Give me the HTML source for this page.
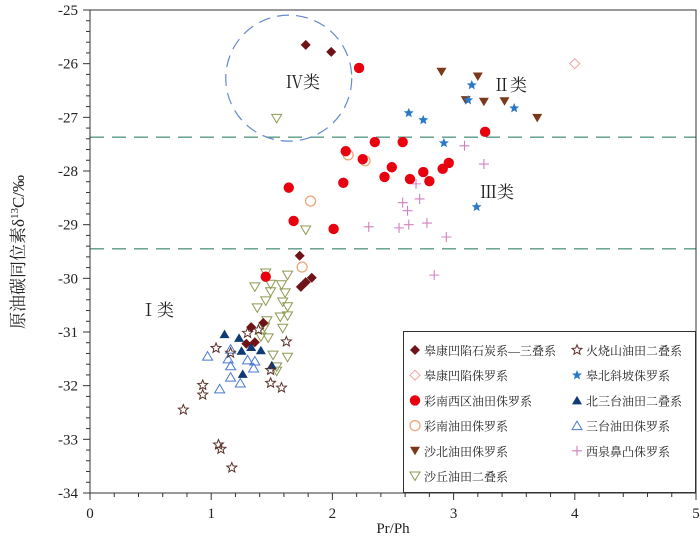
<!DOCTYPE html>
<html><head><meta charset="utf-8"><style>
body{margin:0;background:#fff;width:700px;height:541px;overflow:hidden}
svg{display:block}
text{font-family:"Liberation Serif","Noto Serif CJK SC",serif}
</style></head><body>
<svg id="chart" width="700" height="541"></svg>
<script>
const xTicks=[0,1,2,3,4,5];
const yTicks=[-25,-26,-27,-28,-29,-30,-31,-32,-33,-34];
const boundaryLines=[-27.37,-29.45];
const s1x=[1.78,1.99,1.73,1.74,1.78,1.83,1.33,1.36,1.29,1.43];
const s1y=[-25.65,-25.78,-29.58,-30.16,-30.07,-29.99,-30.91,-31.19,-31.22,-30.83];
const s2x=[4.0];const s2y=[-26.0];
const s3x=[2.22,2.35,2.58,3.26,2.11,2.25,2.49,2.43,2.64,2.75,2.80,2.91,2.96,2.09,1.64,1.68,2.01,1.45];
const s3y=[-26.08,-27.46,-27.46,-27.27,-27.63,-27.78,-27.93,-28.11,-28.15,-28.02,-28.19,-27.96,-27.85,-28.22,-28.31,-28.93,-29.08,-29.97];
const s4x=[2.13,2.27,1.82,1.75];const s4y=[-27.7,-27.81,-28.56,-29.79];
const s5x=[2.90,3.20,3.10,3.25,3.42,3.69];const s5y=[-26.15,-26.24,-26.68,-26.71,-26.70,-27.01];
const s6x=[1.54,1.78,1.45,1.63,1.36,1.49,1.58,1.49,1.61,1.45,1.38,1.59,1.63,1.57,1.63,1.46,1.44,1.59,1.47,1.41,1.51,1.63,1.54,1.54];
const s6y=[-27.02,-29.1,-29.90,-29.94,-30.16,-30.11,-30.12,-30.25,-30.27,-30.42,-30.55,-30.44,-30.53,-30.72,-30.70,-30.79,-30.91,-30.93,-31.11,-31.09,-31.43,-31.47,-31.73,-31.65];
const s7x=[1.04,1.16,1.30,1.39,1.62,1.49,1.49,1.58,0.93,0.93,0.77,1.06,1.08,1.17];
const s7y=[-31.30,-31.39,-31.02,-30.96,-31.18,-31.71,-31.95,-32.04,-31.99,-32.17,-32.45,-33.10,-33.18,-33.53];
const s8x=[3.15,3.12,3.50,2.63,2.75,2.92,3.19];const s8y=[-26.40,-26.68,-26.83,-26.92,-27.05,-27.48,-28.67];
const s9x=[1.11,1.23,1.25,1.33,1.41,1.50,1.26];const s9y=[-31.04,-31.11,-31.35,-31.28,-31.34,-31.62,-31.78];
const s10x=[0.97,1.16,1.14,1.16,1.30,1.36,1.35,1.16,1.24,1.07];const s10y=[-31.45,-31.32,-31.50,-31.63,-31.52,-31.54,-31.67,-31.84,-31.95,-32.06];
const s11x=[3.09,3.25,2.69,2.72,2.58,2.62,2.78,2.63,2.55,2.30,2.94,2.84];const s11y=[-27.53,-27.87,-28.24,-28.52,-28.59,-28.74,-28.97,-29.0,-29.06,-29.04,-29.23,-29.94];

const L=90,R=696,T=10,B=493;
const X=v=>L+(v-0)/5*(R-L);
const Y=v=>T+(-25-v)/9*(B-T);
const svg=document.getElementById('chart');
const NS='http://www.w3.org/2000/svg';
function mk(tag,attrs,parent){const e=document.createElementNS(NS,tag);for(const k in attrs)e.setAttribute(k,attrs[k]);(parent||svg).appendChild(e);return e;}

boundaryLines.forEach(v=>{const l=mk('line',{x1:L,x2:R,y1:Y(v),y2:Y(v),stroke:'#5a9a86','stroke-width':1.3,'stroke-dasharray':'14,8'});

});
const c=mk('circle',{cx:X(1.64),cy:Y(-26.27),r:63,fill:'none',stroke:'#6688cc','stroke-width':1.2,'stroke-dasharray':'12,7'});



function marker(type,x,y,g){
 switch(type){
 case 'dia':return mk('path',{d:`M${x},${y-5}L${x+5},${y}L${x},${y+5}L${x-5},${y}Z`,fill:'#6e1418'},g);
 case 'odia':return mk('path',{d:`M${x},${y-5}L${x+5},${y}L${x},${y+5}L${x-5},${y}Z`,fill:'none',stroke:'#f0a0a0','stroke-width':1},g);
 case 'cir':return mk('circle',{cx:x,cy:y,r:5.2,fill:'#e8000e'},g);
 case 'ocir':return mk('circle',{cx:x,cy:y,r:5,fill:'none',stroke:'#f0a070','stroke-width':1.2},g);
 case 'dtri':return mk('path',{d:`M${x-5},${y-4}L${x+5},${y-4}L${x},${y+4.5}Z`,fill:'#7a3a1a'},g);
 case 'odtri':return mk('path',{d:`M${x-5},${y-4}L${x+5},${y-4}L${x},${y+4.5}Z`,fill:'none',stroke:'#8c9a50','stroke-width':1},g);
 case 'tri':return mk('path',{d:`M${x-5},${y+4}L${x+5},${y+4}L${x},${y-4.5}Z`,fill:'#0f3a74'},g);
 case 'otri':return mk('path',{d:`M${x-5},${y+4}L${x+5},${y+4}L${x},${y-4.5}Z`,fill:'none',stroke:'#4a7ad0','stroke-width':1},g);
 case 'star':case 'ostar':{let p='';for(let i=0;i<10;i++){const r=i%2?2.3:5.2;const a=-Math.PI/2+i*Math.PI/5;p+=(i?'L':'M')+(x+r*Math.cos(a)).toFixed(2)+','+(y+r*Math.sin(a)).toFixed(2);}p+='Z';
   return type==='star'?mk('path',{d:p,fill:'#2a78c8'},g):mk('path',{d:p,fill:'none',stroke:'#5a3028','stroke-width':1},g);}
 case 'plus':return mk('path',{d:`M${x-5},${y}H${x+5}M${x},${y-5}V${y+5}`,stroke:'#d080c0','stroke-width':1.1,fill:'none'},g);
 }
}
const series=[
 ['fukang-carb-triassic','dia',s1x,s1y],['fukang-jurassic','odia',s2x,s2y],['cainan-west-jurassic','cir',s3x,s3y],
 ['cainan-jurassic','ocir',s4x,s4y],['shabei-jurassic','dtri',s5x,s5y],['shaqiu-permian','odtri',s6x,s6y],
 ['huoshaoshan-permian','ostar',s7x,s7y],['fubei-slope-jurassic','star',s8x,s8y],['beisantai-permian','tri',s9x,s9y],
 ['santai-jurassic','otri',s10x,s10y],['xiquan-jurassic','plus',s11x,s11y]];
const order=[5,10,9,8,6,3,2,4,0,1,7];
order.forEach(i=>{const [n,t,xs,ys]=series[i];const g=mk('g',{});
 
 
 xs.forEach((v,j)=>{const m=marker(t,X(v),Y(ys[j]),g);
  
  });});

const fr=mk('rect',{x:L,y:T,width:R-L,height:B-T,fill:'none',stroke:'#333','stroke-width':1});


for(let v=0;v<=5.001;v+=0.2){const maj=Math.abs(v-Math.round(v))<1e-6;mk('line',{x1:X(v),x2:X(v),y1:B,y2:B+(maj?7:4),stroke:'#333'});}
xTicks.forEach(v=>{const t=mk('text',{x:X(v),y:B+25,'text-anchor':'middle','font-size':15,fill:'#222'});t.textContent=v;
 
 });
for(let v=-34;v<=-25.001+0.001;v+=0.2){const maj=Math.abs(v-Math.round(v))<1e-6;mk('line',{x1:L,x2:L-(maj?7:4),y1:Y(v),y2:Y(v),stroke:'#333'});}
yTicks.forEach(v=>{const t=mk('text',{x:L-12,y:Y(v)+5,'text-anchor':'end','font-size':15,fill:'#222'});t.textContent=v;
 
 });
const xt=mk('text',{x:393,y:533,'text-anchor':'middle','font-size':15,fill:'#222','font-family':'Liberation Mono, monospace'});xt.textContent='Pr/Ph';


const yt=mk('text',{transform:'translate(24,252) rotate(-90)','text-anchor':'middle','font-size':17,fill:'#222'});
yt.innerHTML='原油碳同位素δ<tspan font-size="11" dy="-6">13</tspan><tspan dy="6">C/‰</tspan>';


[['Ⅳ类',303,88,'class-iv-label'],['Ⅱ类',510,91,'class-ii-label'],['Ⅲ类',497,198,'class-iii-label'],['Ⅰ类',157,316,'class-i-label']].forEach(a=>{
 const t=mk('text',{x:a[1],y:a[2],'text-anchor':'middle','font-size':17,fill:'#222'});t.textContent=a[0];
 
 });
const lg=mk('g',{});


mk('rect',{x:403.5,y:331.5,width:292,height:161,fill:'#fff',stroke:'#333','stroke-width':1},lg);
const names=['皋康凹陷石炭系—三叠系','火烧山油田二叠系','皋康凹陷侏罗系','皋北斜坡侏罗系','彩南西区油田侏罗系','北三台油田二叠系','彩南油田侏罗系','三台油田侏罗系','沙北油田侏罗系','西泉鼻凸侏罗系','沙丘油田二叠系'];
const types=['dia','ostar','odia','star','cir','tri','ocir','otri','dtri','plus','odtri'];
names.forEach((n,i)=>{const col=i%2,row=Math.floor(i/2);const x=col?577:415,y=350+row*25.2;
 const e=mk('g',{},lg);
 
 
 marker(types[i],x,y,e);
 const t=mk('text',{x:x+9,y:y+5,'font-size':12,fill:'#222','font-family':'Noto Serif CJK SC, serif'},e);t.textContent=n;});
</script>
</body></html>
